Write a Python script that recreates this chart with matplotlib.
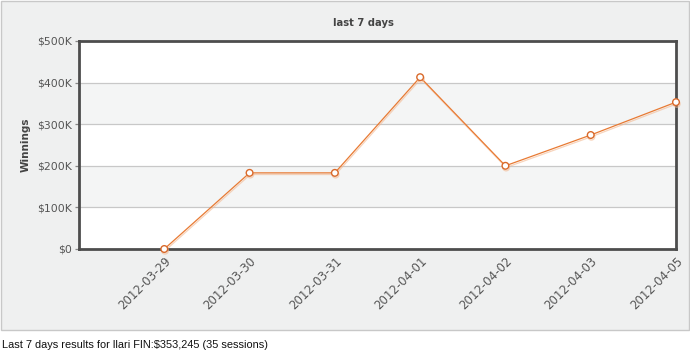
import matplotlib
matplotlib.use("Agg")
import matplotlib.pyplot as plt
import matplotlib.patheffects as pe
from matplotlib.patches import Rectangle
import numpy as np

dates = ["2012-03-29", "2012-03-30", "2012-03-31", "2012-04-01",
         "2012-04-02", "2012-04-03", "2012-04-05"]
winnings_k = [0, 183, 183, 413, 200, 274, 353]
y_ticks = [0, 100, 200, 300, 400, 500]
y_labels = ["$0", "$100K", "$200K", "$300K", "$400K", "$500K"]

W, H = 690, 359
fig = plt.figure(figsize=(W / 100, H / 100), dpi=100)
fig.patch.set_facecolor("white")

# grey panel behind the chart
fig.add_artist(Rectangle((0.5 / W, 1 - 329.5 / H), 688 / W, 329 / H,
                         transform=fig.transFigure, facecolor="#eff0f0",
                         edgecolor="#c8c8c8", linewidth=1.0, zorder=0))

ax = fig.add_axes([79 / W, 1 - 249 / H, (676 - 79) / W, (249 - 41) / H])
ax.set_facecolor("white")

# alternating bands
for lo in y_ticks[:-1]:
    if (lo // 100) % 2 == 1:
        ax.axhspan(lo, lo + 100, color="#f4f5f5", zorder=0, lw=0)
for t in y_ticks[1:-1]:
    ax.axhline(t, color="#c8c8c8", lw=0.9, zorder=1)

x = np.arange(len(dates))
ax.plot(x, winnings_k, color="#e87a33", lw=0.9, zorder=3,
        marker="o", ms=4.8, mfc="white", mec="#d9692a", mew=1.0,
        path_effects=[pe.SimpleLineShadow(offset=(0.5, -1.2), shadow_color="#f3b890", alpha=0.6),
                      pe.Normal()], clip_on=False)

ax.set_xlim(-1, len(dates) - 1)
ax.set_ylim(0, 500)
ax.set_yticks(y_ticks)
ax.set_yticklabels(y_labels, fontsize=7.8, color="#555555")
ax.tick_params(axis="y", length=3, width=0.9, color="#888888", pad=2)
ax.set_xticks(x)
ax.set_xticklabels(dates, fontsize=8.5, color="#555555", rotation=45,
                   ha="right", va="top", rotation_mode="anchor")
ax.tick_params(axis="x", length=0, pad=4)

for s in ax.spines.values():
    s.set_color("#4d4d4d")
    s.set_linewidth(2.0)

fig.text(363 / W, 1 - 23 / H, "last 7 days", ha="center", va="center",
         fontsize=7.2, fontweight="bold", color="#444444")
fig.text(26 / W, 1 - 145 / H, "Winnings", ha="center", va="center",
         rotation=90, fontsize=7.5, fontweight="bold", color="#444444")
fig.text(2 / W, 1 - 345 / H,
         "Last 7 days results for llari FIN:$353,245 (35 sessions)",
         ha="left", va="center", fontsize=7.9, family="Liberation Sans",
         color="#111111")

fig.savefig("out.png", dpi=100, facecolor=fig.get_facecolor())
